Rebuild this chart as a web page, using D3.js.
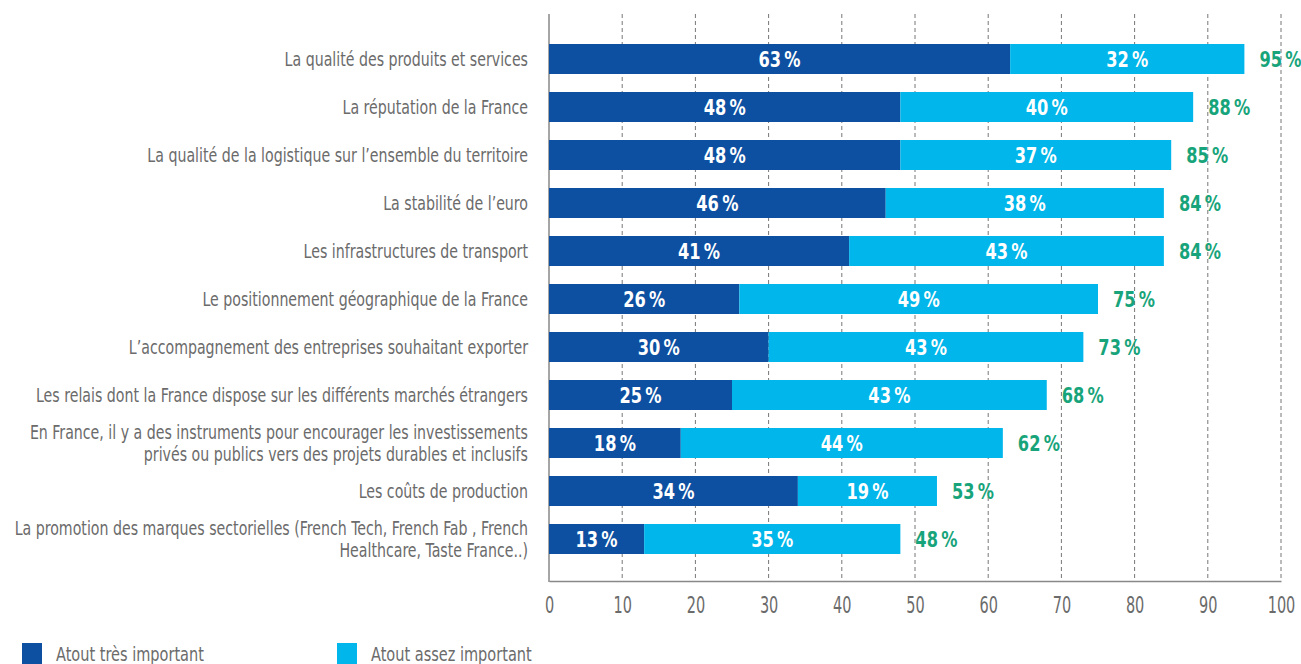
<!DOCTYPE html>
<html>
<head>
<meta charset="utf-8">
<script src="https://cdn.jsdelivr.net/npm/d3@7"></script>
<style>
  body { margin: 0; background: #fff; }
  text { font-family: "DejaVu Sans Condensed", "Liberation Sans Narrow", sans-serif; }
</style>
</head>
<body>
<div id="chart"></div>
<script>
var categories = [
  ["La qualité des produits et services"],
  ["La réputation de la France"],
  ["La qualité de la logistique sur l’ensemble du territoire"],
  ["La stabilité de l’euro"],
  ["Les infrastructures de transport"],
  ["Le positionnement géographique de la France"],
  ["L’accompagnement des entreprises souhaitant exporter"],
  ["Les relais dont la France dispose sur les différents marchés étrangers"],
  ["En France, il y a des instruments pour encourager les investissements", "privés ou publics vers des projets durables et inclusifs"],
  ["Les coûts de production"],
  ["La promotion des marques sectorielles (French Tech, French Fab , French", "Healthcare, Taste France..)"]
];
var tresImportant = [63, 48, 48, 46, 41, 26, 30, 25, 18, 34, 13];
var assezImportant = [32, 40, 37, 38, 43, 49, 43, 43, 44, 19, 35];
var totals = [95, 88, 85, 84, 84, 75, 73, 68, 62, 53, 48];
var ticks = [0, 10, 20, 30, 40, 50, 60, 70, 80, 90, 100];
var legendLabels = ["Atout très important", "Atout assez important"];

var w = 1301, h = 664;
var dark = "#0d4fa1", light = "#00b6ea", green = "#18a47a", grey = "#6b6b6b";

// no condensed DIN here, so squeeze text horizontally around its anchor
function squeeze(sel, sx) {
  sel.each(function(){
    var t = d3.select(this);
    var tx = +t.attr("x") || 0, ty = +t.attr("y") || 0;
    t.attr("x", 0).attr("y", 0)
      .attr("transform", "translate(" + tx + "," + ty + ") scale(" + sx + ",1)");
    t.selectAll("tspan").attr("x", 0);
  });
}

var svg = d3.select("#chart").append("svg")
  .attr("width", w)
  .attr("height", h);

var x = d3.scaleLinear().domain([0, 100]).range([549, 1281]);
var y = d3.scaleBand().domain(d3.range(categories.length)).range([35, 563]).paddingInner(0.375).paddingOuter(0.1875);

// dashed grid
svg.selectAll(".grid")
  .data(ticks.slice(1))
  .enter().append("line")
    .attr("x1", d => x(d)).attr("x2", d => x(d))
    .attr("y1", 14).attr("y2", 581)
    .attr("stroke", "#777")
    .attr("stroke-width", 1)
    .attr("stroke-dasharray", "4,3");

// axis
var xAxis = d3.axisBottom(x).tickValues(ticks).tickSize(0).tickPadding(0);
var gx = svg.append("g")
  .attr("transform", "translate(0,581)")
  .call(xAxis);
gx.select(".domain").attr("stroke", "#888").attr("stroke-width", 1.5);
gx.selectAll(".tick text")
  .attr("fill", grey)
  .attr("dy", null)
  .attr("y", 32)
  .style("font-size", "23px")
  .call(squeeze, 0.7);

svg.append("line")
  .attr("x1", 549).attr("x2", 549)
  .attr("y1", 14).attr("y2", 582)
  .attr("stroke", "#888").attr("stroke-width", 1.5);

var rows = svg.selectAll(".row")
  .data(categories.map(function(c, i){ return {i: i, lab: c, a: tresImportant[i], b: assezImportant[i], t: totals[i]}; }))
  .enter().append("g");

rows.append("rect")
  .attr("x", x(0))
  .attr("y", d => y(d.i))
  .attr("width", d => x(d.a) - x(0))
  .attr("height", y.bandwidth())
  .attr("fill", dark);

rows.append("rect")
  .attr("x", d => x(d.a))
  .attr("y", d => y(d.i))
  .attr("width", d => x(d.a + d.b) - x(d.a))
  .attr("height", y.bandwidth())
  .attr("fill", light);

var cy = d => y(d.i) + y.bandwidth() / 2 + 8;

rows.append("text")
  .attr("x", d => (x(0) + x(d.a)) / 2)
  .attr("y", cy)
  .attr("text-anchor", "middle")
  .attr("fill", "#fff")
  .style("font-size", "22px")
  .style("font-weight", "bold")
  .text(d => d.a + "\u2009%")
  .call(squeeze, 0.82);

rows.append("text")
  .attr("x", d => (x(d.a) + x(d.a + d.b)) / 2)
  .attr("y", cy)
  .attr("text-anchor", "middle")
  .attr("fill", "#fff")
  .style("font-size", "22px")
  .style("font-weight", "bold")
  .text(d => d.b + "\u2009%")
  .call(squeeze, 0.82);

rows.append("text")
  .attr("x", d => x(d.a + d.b) + 15)
  .attr("y", cy)
  .attr("fill", green)
  .style("font-size", "22px")
  .style("font-weight", "bold")
  .text(d => d.t + "\u2009%")
  .call(squeeze, 0.82);

// category labels
rows.append("text")
  .attr("x", 528)
  .attr("y", d => y(d.i) + y.bandwidth() / 2 + 7 - (d.lab.length - 1) * 11.5)
  .attr("text-anchor", "end")
  .attr("fill", grey)
  .style("font-size", "19px")
  .each(function(d){
    d3.select(this).selectAll("tspan")
      .data(d.lab)
      .enter().append("tspan")
        .attr("x", 528)
        .attr("dy", (l, k) => k == 0 ? 0 : 23)
        .text(l => l);
  })
  .call(squeeze, 0.83);

// legend
var legend = svg.selectAll(".legend")
  .data(legendLabels)
  .enter().append("g")
    .attr("transform", (d, i) => "translate(" + (i == 0 ? 22 : 337) + ",643)");
legend.append("rect")
  .attr("width", 20).attr("height", 21)
  .attr("fill", (d, i) => i == 0 ? dark : light);
legend.append("text")
  .attr("x", 34).attr("y", 18)
  .attr("fill", grey)
  .style("font-size", "19px")
  .text(d => d)
  .call(squeeze, 0.85);
</script>
</body>
</html>
